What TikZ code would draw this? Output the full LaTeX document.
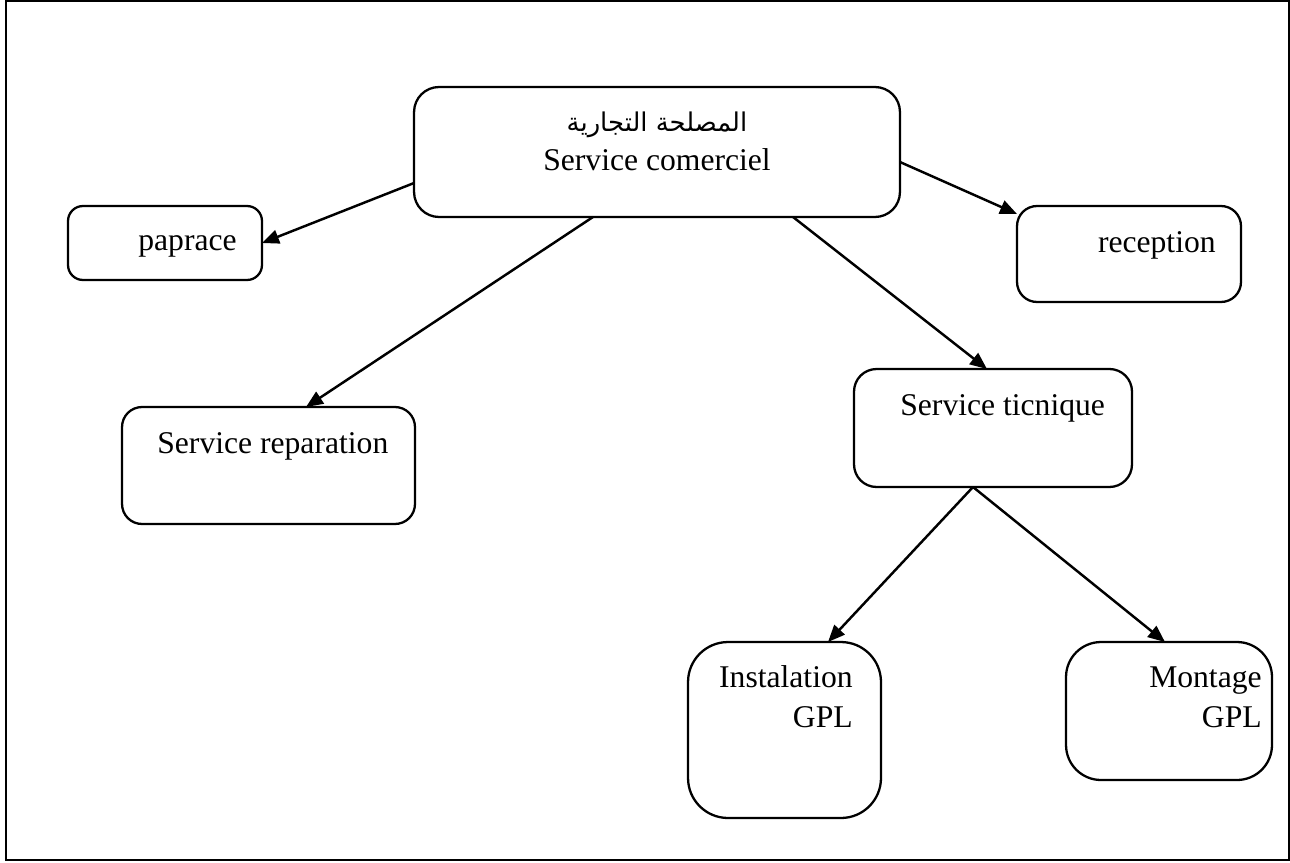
\documentclass[tikz,border=0pt]{standalone}
\usepackage{fontspec}
\setmainfont{Liberation Serif}
\newfontfamily\arabicfont[Script=Arabic]{DejaVu Sans}
\TeXXeTstate=1
\usetikzlibrary{arrows.meta,calc}

\tikzset{
  box/.style={draw, line width=1.3pt, rounded corners=#1, inner sep=0pt, outer sep=0pt},
  box/.default=0.4cm,
  txt/.style={inner sep=0pt, font=\fontsize{18}{22}\selectfont},
  link/.style={line width=1.4pt, -{Triangle[length=0.34cm,width=0.28cm]}},
}

\begin{document}
\begin{tikzpicture}[x=0.02cm,y=-0.02cm]
  \useasboundingbox (0,0) rectangle (1290,862);
  \draw[line width=0.9pt] (6,1) rectangle (1289,860);

  % boxes
  \node[box=0.5cm, minimum width=9.72cm, minimum height=2.6cm] (top) at (657,152) {};
  \node[box=0.3cm, minimum width=3.88cm, minimum height=1.48cm] (paprace) at (165,243) {};
  \node[box=0.4cm, minimum width=4.48cm, minimum height=1.92cm] (reception) at (1129,254) {};
  \node[box=0.4cm, minimum width=5.86cm, minimum height=2.34cm] (reparation) at (268.5,465.5) {};
  \node[box=0.45cm, minimum width=5.56cm, minimum height=2.36cm] (ticnique) at (993,428) {};
  \node[box=0.8cm, minimum width=3.86cm, minimum height=3.52cm] (inst) at (784.5,730) {};
  \node[box=0.7cm, minimum width=4.12cm, minimum height=2.76cm] (mont) at (1169,711) {};

  % labels
  \node[inner sep=0pt, font=\arabicfont\fontsize{14.7}{18}\selectfont] (arlabel) at (657,125) {\beginR المصلحة التجارية\endR};
  \node[txt, anchor=base] (toplabel) at (657,170) {Service comerciel};
  \node[txt, anchor=base east] (paplabel) at (237,250) {paprace};
  \node[txt, anchor=base east] (reclabel) at (1216,252) {reception};
  \node[txt, anchor=base west] (replabel) at (157,453) {Service reparation};
  \node[txt, anchor=base west] (ticlabel) at (900,415) {Service ticnique};
  \node[txt, anchor=base east] (instlabel) at (853,687) {Instalation};
  \node[txt, anchor=base east] (instgpl) at (853,727) {GPL};
  \node[txt, anchor=base east] (montlabel) at (1262,687) {Montage};
  \node[txt, anchor=base east] (montgpl) at (1262,727) {GPL};

  % connectors
  \draw[link] ($(top.west)+(0,31)$) -- (paprace.east);
  \draw[link] ($(top.east)+(0,10)$) -- ($(reception.north west)+(0,8)$);
  \draw[link] ($(top.south)+(-64,0)$) -- ($(reparation.north)+(37.5,0)$);
  \draw[link] ($(top.south)+(136,0)$) -- ($(ticnique.north)+(-6,0)$);
  \draw[link] ($(ticnique.south)+(-20,0)$) -- ($(inst.north)+(43.5,0)$);
  \draw[link] ($(ticnique.south)+(-20,0)$) -- ($(mont.north)+(-4,0)$);
\end{tikzpicture}
\end{document}
